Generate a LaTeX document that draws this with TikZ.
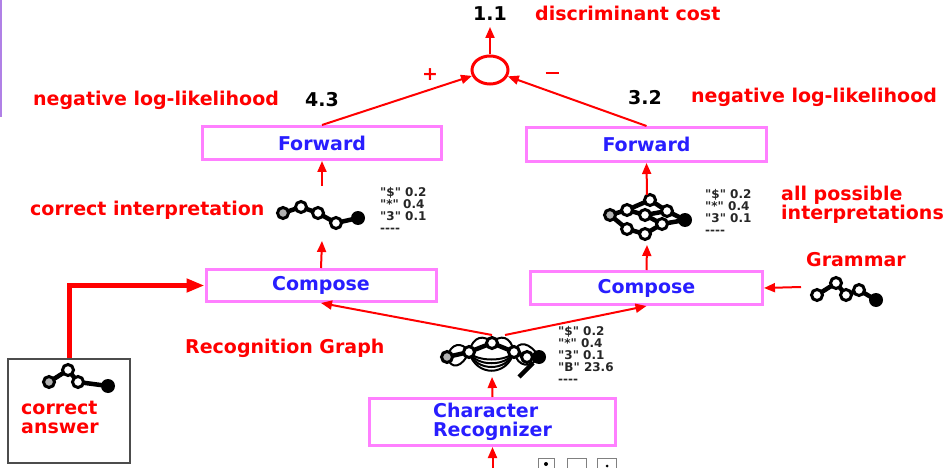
\documentclass[tikz,border=0pt]{standalone}
\usepackage{fontspec}
\setmainfont{DejaVu Sans}
\newfontfamily\probfont{DejaVu Sans}[Ligatures=TeXOff]
\usetikzlibrary{arrows.meta,shapes.geometric}
\definecolor{boxpink}{RGB}{255,128,255}
\definecolor{txtblue}{RGB}{40,30,255}
\definecolor{purpline}{RGB}{176,128,230}
\tikzset{
  bigfont/.style={font=\fontsize{19}{19}\selectfont\bfseries},
  redlbl/.style={bigfont, text=red, inner sep=0pt},
  numlbl/.style={bigfont, text=black, inner sep=0pt},
  procbox/.style={draw=boxpink, line width=3pt, fill=white, bigfont, text=txtblue, inner sep=0pt, align=center},
  arr/.style={draw=red, line width=2pt, -{Triangle[length=11pt,width=9pt]}},
  thickarr/.style={draw=red, line width=5pt, -{Triangle[length=18pt,width=13pt]}},
  probs/.style={font=\probfont\fontsize{12}{12}\selectfont\bfseries, text=black!85, align=left, inner sep=0pt, anchor=north west},
  gedge/.style={line width=4.5pt, black},
  gthin/.style={line width=2pt, black},
  gnode/.style={circle, draw=black, line width=3pt, fill=white, minimum size=11pt, inner sep=0pt},
  gstart/.style={gnode, fill=gray!60},
  gend/.style={circle, fill=black, minimum size=14pt, inner sep=0pt},
}
\begin{document}
\begin{tikzpicture}[x=1pt,y=-1pt]
\useasboundingbox (0,0) rectangle (948,468);
\draw[purpline, line width=1.5pt] (1,0) -- (1,117);

% top sum
\node[ellipse, draw=red, line width=3pt, minimum width=36pt, minimum height=28pt, inner sep=0pt] (sum) at (490,70) {};
\node[numlbl] (v11) at (490,14) {1.1};
\coordinate (v11tip) at (490,27);
\node[redlbl, anchor=west] (disc) at (535,13) {discriminant cost};
\node[redlbl] (plus) at (430,75) {+};
\node[redlbl] (minus) at (552,73) {\rule{13pt}{2.8pt}};

% labels
\node[redlbl, anchor=west] (nllL) at (33,100) {negative log-likelihood};
\node[numlbl] (v43) at (322,100) {4.3};
\node[numlbl] (v32) at (645,98) {3.2};
\node[redlbl, anchor=west] (nllR) at (691,97) {negative log-likelihood};

% boxes
\node[procbox, minimum width=239pt, minimum height=33pt] (fwdL) at (322,143) {Forward};
\node[procbox, minimum width=240pt, minimum height=34pt] (fwdR) at (646.5,144.5) {Forward};
\node[procbox, minimum width=230pt, minimum height=32pt] (compL) at (321,285.5) {Compose};
\node[procbox, minimum width=232pt, minimum height=33pt] (compR) at (646.5,288) {Compose};
\node[procbox, minimum width=246pt, minimum height=47pt, align=left] (charRec) at (492.5,422) {Character\\Recognizer};
\node[draw=black!70, line width=2pt, minimum width=122pt, minimum height=104pt, inner sep=0pt] (cabox) at (69,411) {};

% text labels
\node[redlbl, anchor=west] (corrInt) at (30,210) {correct interpretation};
\node[redlbl, anchor=west, align=left] (allPoss) at (781,204.5) {all possible\\interpretations};
\node[redlbl, anchor=west] (gram) at (806,260) {Grammar};
\node[redlbl, anchor=west] (recG) at (185,348) {Recognition Graph};
\node[redlbl, anchor=west, align=left] (caText) at (21,417.5) {correct\\answer};

% probability lists
\node[probs] (pL) at (380,187) {"\$" 0.2\\"*" 0.4\\"3" 0.1\\----};
\node[probs] (pR) at (705,189) {"\$" 0.2\\"*" 0.4\\"3" 0.1\\----};
\node[probs] (pB) at (558,326) {"\$" 0.2\\"*" 0.4\\"3" 0.1\\"B" 23.6\\----};

% correct interpretation chain
\draw[gedge] (283,213) -- (301,207) -- (318,213) -- (336,223) -- (358,218);
\node[gstart] (ci1) at (283,213) {};
\node[gnode] (ci2) at (301,207) {};
\node[gnode] (ci3) at (318,213) {};
\node[gnode] (ci4) at (336,223) {};
\node[gend] (ci5) at (358,218) {};

% all possible interpretations lattice
\draw[gedge] (610,215) -- (627,210) -- (650,200) -- (667,211) -- (685,220);
\draw[gedge] (627,210) -- (645,215) -- (667,211);
\draw[gedge] (645,215) -- (662,224) -- (685,220);
\draw[gedge] (610,215) -- (627,229) -- (645,234) -- (662,224);
\node[gstart] (ap0) at (610,215) {};
\node[gnode] (ap1) at (627,210) {};
\node[gnode] (ap2) at (650,200) {};
\node[gnode] (ap3) at (667,211) {};
\node[gnode] (ap4) at (645,215) {};
\node[gnode] (ap5) at (662,224) {};
\node[gnode] (ap6) at (627,229) {};
\node[gnode] (ap7) at (645,234) {};
\node[gend] (ap8) at (685,220) {};

% grammar chain
\draw[gedge] (817,295) -- (836,283) -- (846,295) -- (859,290) -- (876,300);
\node[gnode] (gr1) at (817,295) {};
\node[gnode] (gr2) at (836,283) {};
\node[gnode] (gr3) at (846,295) {};
\node[gnode] (gr4) at (859,290) {};
\node[gend] (gr5) at (876,300) {};

% correct answer chain
\draw[gedge] (49,382) -- (68,370) -- (78,382) -- (108,386);
\node[gstart] (ca1) at (49,382) {};
\node[gnode] (ca2) at (68,370) {};
\node[gnode] (ca3) at (78,382) {};
\node[gend] (ca4) at (108,386) {};

% recognition graph
\draw[gthin] (447,357) .. controls (451,343) and (462,341) .. (469,352);
\draw[gthin] (447,357) .. controls (451,370) and (462,368) .. (469,352);
\foreach \d in {362,367,372,377}{
  \draw[gthin] (469,352) .. controls (476,\d) and (507,\d) .. (514,352);
}
\draw[gthin] (469,352) .. controls (473,336) and (484,334) .. (492,343);
\draw[gthin] (492,343) .. controls (500,334) and (511,336) .. (514,352);
\draw[gthin] (514,352) .. controls (518,340) and (530,342) .. (539,357);
\draw[gthin] (514,352) .. controls (518,368) and (531,368) .. (539,357);
\draw[gedge] (447,357) -- (469,352) -- (492,343) -- (514,352) -- (527,357) -- (539,357);
\draw[gedge] (533,363) -- (519,377);
\node[gstart] (rg0) at (447,357) {};
\node[gnode] (rg1) at (469,352) {};
\node[gnode] (rg2) at (492,343) {};
\node[gnode] (rg3) at (514,352) {};
\node[gnode] (rg4) at (527,357) {};
\node[gend] (rg5) at (539,357) {};

% bottom input boxes (cut off)
\node[draw=black!50, line width=1pt, minimum width=16pt, minimum height=14pt, inner sep=0pt] (in1) at (546.5,465) {};
\node[draw=black!50, line width=1pt, minimum width=19pt, minimum height=14pt, inner sep=0pt] (in2) at (577,465) {};
\node[draw=black!50, line width=1pt, minimum width=19pt, minimum height=14pt, inner sep=0pt] (in3) at (607,465) {};
\fill[black] (546,464) circle (2pt);
\fill[black] (607,466) circle (1.5pt);

% coordinates for free ends
\coordinate (ciLtail) at (322,186);
\coordinate (ciLtip) at (322,241);
\coordinate (apRtail) at (647,195);
\coordinate (apRtip) at (647,245);
\coordinate (gramTail) at (801,287);
\coordinate (rgTailL) at (492,335);
\coordinate (rgTailR) at (505,335);
\coordinate (rgTip) at (492,377);
\coordinate (inTail) at (492.5,470);

% connectors
\draw[arr] (sum) -- (v11tip);
\draw[arr] (fwdL.north) -- (sum);
\draw[arr] (fwdR.north) -- (sum);
\draw[arr] (ciLtail) -- (fwdL.south);
\draw[arr] (compL.north) -- (ciLtip);
\draw[arr] (apRtail) -- (fwdR.south);
\draw[arr] (compR.north) -- (apRtip);
\draw[arr] (gramTail) -- (compR.east);
\draw[arr] (rgTailL) -- (compL.south);
\draw[arr] (rgTailR) -- (compR.south);
\draw[arr] (charRec.north) -- (rgTip);
\draw[arr] (inTail) -- (charRec.south);
\draw[thickarr] (cabox.north) |- (compL.west);
\end{tikzpicture}
\end{document}
